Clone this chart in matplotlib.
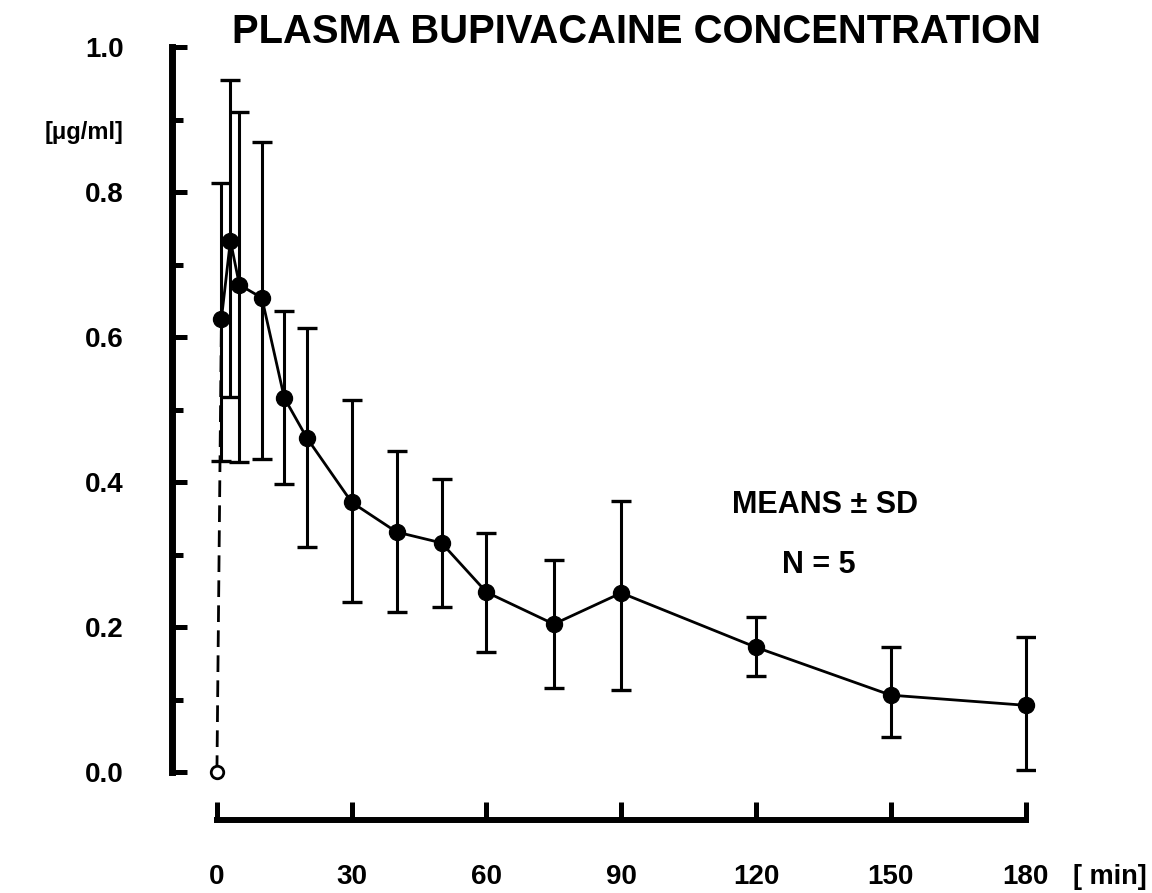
import numpy as np
import matplotlib.pyplot as plt
from matplotlib.ticker import MultipleLocator

# mean plasma concentration [ug/ml] and SD bounds
times = [1, 3, 5, 10, 15, 20, 30, 40, 50, 60, 75, 90, 120, 150, 180]
means = [0.625, 0.733, 0.672, 0.654, 0.516, 0.461, 0.372, 0.331, 0.316, 0.248,
         0.204, 0.247, 0.172, 0.106, 0.092]
upper = [0.812, 0.955, 0.910, 0.869, 0.636, 0.612, 0.513, 0.443, 0.404, 0.330,
         0.292, 0.374, 0.214, 0.172, 0.186]
lower = [0.429, 0.517, 0.428, 0.432, 0.397, 0.310, 0.234, 0.221, 0.228, 0.166,
         0.116, 0.113, 0.132, 0.048, 0.003]
baseline_time = 0
baseline_value = 0.0

x_ticks = [0, 30, 60, 90, 120, 150, 180]
y_ticks = [0.0, 0.2, 0.4, 0.6, 0.8, 1.0]
y_tick_labels = ['0.0', '0.2', '0.4', '0.6', '0.8', '1.0']

FONT = 'Liberation Sans'
W, H = 1152, 893

fig = plt.figure(figsize=(W / 100, H / 100), dpi=100)
ax = fig.add_axes([172 / W, 73 / H, (1035 - 172) / W, 773 / H])
ax.set_xlim(-10.0, 182.1)
ax.set_ylim(-0.0662, 1.0)

means = np.array(means)
yerr = np.array([means - np.array(lower), np.array(upper) - means])

# dashed link from the zero baseline to the first sample
ax.plot([baseline_time, times[0]], [baseline_value, means[0]], color='black',
        lw=2.0, dashes=(6, 3), zorder=2)
ax.plot([baseline_time], [baseline_value], 'o', ms=9, mfc='white', mec='black',
        mew=2.0, zorder=4)

ax.errorbar(times, means, yerr=yerr, fmt='none', ecolor='black', elinewidth=2.2,
            capsize=7.5, capthick=2.4, zorder=2)
ax.plot(times, means, '-', color='black', lw=2.0, zorder=3)
ax.plot(times, means, 'o', color='black', ms=11.5, zorder=4)

for side in ['top', 'right']:
    ax.spines[side].set_visible(False)
ax.spines['left'].set_linewidth(5)
ax.spines['left'].set_bounds(0, 1.0)
ax.spines['bottom'].set_linewidth(4.3)
ax.spines['bottom'].set_bounds(0, 180)

ax.set_xticks(x_ticks)
ax.set_xticklabels([str(t) for t in x_ticks])
ax.set_yticks(y_ticks)
ax.set_yticklabels(y_tick_labels)
ax.yaxis.set_minor_locator(MultipleLocator(0.1))

ax.tick_params(axis='x', direction='in', length=13, width=3.6, pad=32)
ax.tick_params(axis='y', which='both', direction='in', length=11, width=3.6, pad=35)
ax.tick_params(axis='y', which='minor', length=8)
for lab in ax.get_xticklabels() + ax.get_yticklabels():
    lab.set_fontfamily(FONT)
    lab.set_fontweight('bold')
    lab.set_fontsize(20)

fig.text(1110 / W, 1 - 877 / H, '[ min]', ha='center', va='center',
         family=FONT, weight='bold', fontsize=19.5)
fig.text(124 / W, 1 - 132 / H, '[\u03bcg/ml]', ha='right', va='center',
         family=FONT, weight='bold', fontsize=17)
fig.text(636 / W, 1 - 32 / H, 'PLASMA BUPIVACAINE CONCENTRATION', ha='center',
         va='center', family=FONT, weight='bold', fontsize=28.8)
fig.text(825 / W, 1 - 505 / H, 'MEANS \u00b1 SD', ha='center', va='center',
         family=FONT, weight='bold', fontsize=22)
fig.text(819 / W, 1 - 565 / H, 'N = 5', ha='center', va='center',
         family=FONT, weight='bold', fontsize=22)

fig.savefig('out.png', dpi=100)
